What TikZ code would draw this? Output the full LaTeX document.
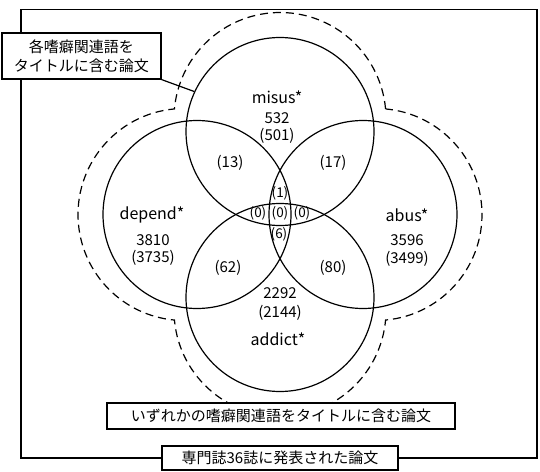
\documentclass[tikz,border=0pt]{standalone}
\usepackage{fontspec}
\setmainfont{Noto Sans CJK JP}
\usepackage{tikz}

\begin{document}
\begin{tikzpicture}[x=1pt, y=1pt, line width=1.2pt,
    vset/.style={draw, circle, minimum size=188pt, inner sep=0pt},
    setname/.style={font=\fontsize{16}{18}\selectfont, inner sep=0pt},
    count/.style={font=\fontsize{15}{17}\selectfont, inner sep=0pt},
    lens/.style={font=\fontsize{13.5}{15}\selectfont, inner sep=0pt},
    tag/.style={draw, fill=white, font=\fontsize{15}{19}\selectfont, align=center, inner sep=0pt}]
        \useasboundingbox (-280,-256.5) rectangle (260,214.5);
        % journals frame
        \draw (-259,205) rectangle (257,-243.5);
        % any keyword (dashed outline)
        \draw[dash pattern=on 8pt off 5pt] (105.57,105.57)
          arc[start angle=5.18, end angle=174.82, radius=106]
          arc[start angle=95.18, end angle=264.82, radius=106]
          arc[start angle=185.18, end angle=354.82, radius=106]
          arc[start angle=275.18, end angle=444.82, radius=106] -- cycle;
        % keyword circles
        \node[vset] (misus) at (0,83) {};
        \node[vset] (depend) at (-83,0) {};
        \node[vset] (abus) at (83,0) {};
        \node[vset] (addict) at (0,-83) {};
        % misus*
        \node[setname] (misusname) at (-3,117.5) {misus*};
        \node[count] (misusall) at (-3,96.5) {532};
        \node[count] (misusonly) at (-3,78.5) {(501)};
        % depend*
        \node[setname] (dependname) at (-128,-0.5) {depend*};
        \node[count] (dependall) at (-127,-25.5) {3810};
        \node[count] (dependonly) at (-127,-43.5) {(3735)};
        % abus*
        \node[setname] (abusname) at (127,-0.5) {abus*};
        \node[count] (abusall) at (127,-25.5) {3596};
        \node[count] (abusonly) at (127,-44.5) {(3499)};
        % addict*
        \node[count] (addictall) at (0,-78.5) {2292};
        \node[count] (addictonly) at (0,-98.5) {(2144)};
        \node[setname] (addictname) at (-2,-124.5) {addict*};
        % pairwise overlaps
        \node[count] (mdpair) at (-50,51.5) {(13)};
        \node[count] (mapair) at (53,51.5) {(17)};
        \node[count] (dapair) at (-52,-53.5) {(62)};
        \node[count] (aapair) at (53,-53.5) {(80)};
        % centre lens
        \node[lens] (lenstop) at (0,21.5) {(1)};
        \node[lens] (lensleft) at (-22,1.5) {(0)};
        \node[lens] (lensmid) at (0,1.5) {(0)};
        \node[lens] (lensright) at (22,1.5) {(0)};
        \node[lens] (lensbot) at (-1,-19.5) {(6)};
        % labels
        \node[tag, minimum width=159pt, minimum height=46pt] (eachlbl) at (-198.5,158.5) {各嗜癖関連語を\\タイトルに含む論文};
        \draw (eachlbl.south east) -- (misus.155);
        \node[tag, minimum width=348pt, minimum height=26pt] (anylbl) at (1,-201.5) {いずれかの嗜癖関連語をタイトルに含む論文};
        \node[tag, minimum width=236pt, minimum height=24pt] (jrnllbl) at (0,-243.5) {専門誌36誌に発表された論文};
      \end{tikzpicture}
\end{document}
